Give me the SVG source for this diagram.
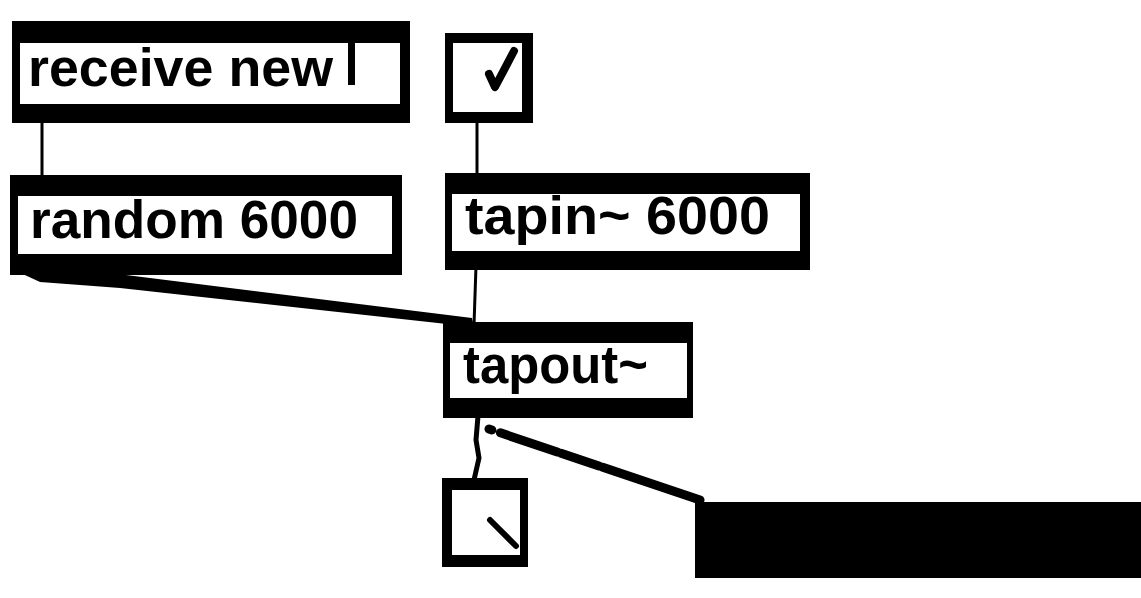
<svg xmlns="http://www.w3.org/2000/svg" width="1141" height="598" viewBox="0 0 1141 598">
  <style>
    .outer { fill: #000; }
    .inner { fill: #fff; }
    .lbl { font-family: "Liberation Sans", Arial, sans-serif; font-weight: bold; font-size: 53px; fill: #000; }
    .wire { stroke: #000; fill: none; stroke-linecap: round; }
  </style>
  <rect width="1141" height="598" fill="#fff"/>

  <g id="connectors">
    <line class="wire" x1="42" y1="120" x2="42" y2="178" stroke-width="3"/>
    <line class="wire" x1="477" y1="120" x2="477" y2="176" stroke-width="3"/>
    <polygon points="14,270 110,273 472,318 474,327 120,288 40,282" fill="#000"/>
    <line class="wire" x1="476" y1="266" x2="474" y2="325" stroke-width="3"/>
    <polyline class="wire" points="478,416 476,440 479,458 474,480" stroke-width="5"/>
    <line class="wire" x1="489" y1="429" x2="700" y2="500" stroke-width="9" stroke-dasharray="3 9 60 4 40 4 200"/>
  </g>

  <g id="receive-new">
    <rect class="outer" x="12" y="21" width="398" height="102"/>
    <rect class="inner" x="20" y="43" width="380" height="61"/>
    <text class="lbl" x="28" y="86" textLength="305" lengthAdjust="spacingAndGlyphs">receive new</text>
    <rect x="348" y="42" width="7" height="43" fill="#000"/>
  </g>

  <g id="toggle-top">
    <rect class="outer" x="445" y="33" width="88" height="90"/>
    <rect class="inner" x="453" y="43" width="69" height="69"/>
    <polyline points="489,74 495,87 514,51" fill="none" stroke="#000" stroke-width="8" stroke-linejoin="round" stroke-linecap="round"/>
  </g>

  <g id="random-6000">
    <rect class="outer" x="10" y="175" width="392" height="100"/>
    <rect class="inner" x="18" y="196" width="374" height="58"/>
    <text class="lbl" x="30" y="238" textLength="328" lengthAdjust="spacingAndGlyphs">random 6000</text>
  </g>

  <g id="tapin-6000">
    <rect class="outer" x="445" y="173" width="365" height="97"/>
    <rect class="inner" x="452" y="194" width="348" height="57"/>
    <text class="lbl" x="465" y="234" textLength="305" lengthAdjust="spacingAndGlyphs">tapin~ 6000</text>
  </g>

  <g id="tapout">
    <rect class="outer" x="443" y="322" width="250" height="96"/>
    <rect class="inner" x="450" y="343" width="237" height="55"/>
    <text class="lbl" x="463" y="383" textLength="185" lengthAdjust="spacingAndGlyphs">tapout~</text>
  </g>

  <g id="toggle-bottom">
    <rect class="outer" x="442" y="478" width="86" height="89"/>
    <rect class="inner" x="452" y="490" width="68" height="65"/>
    <line x1="490" y1="520" x2="516" y2="546" stroke="#000" stroke-width="6" stroke-linecap="round"/>
  </g>

  <g id="comment">
    <rect x="695" y="502" width="446" height="76" fill="#000"/>
  </g>
</svg>
